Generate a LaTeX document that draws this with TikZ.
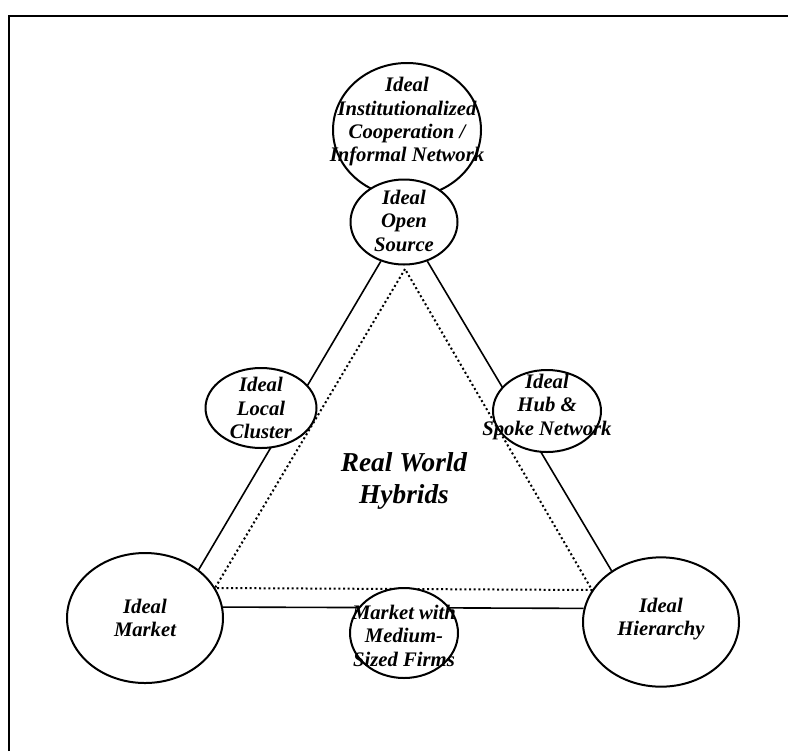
\documentclass[tikz,border=0pt]{standalone}
\usepackage{fontspec}
\setmainfont{Liberation Serif}
\usetikzlibrary{shapes.geometric,backgrounds}

\tikzset{
  blob/.style={draw,ellipse,fill=white,line width=1.5pt,inner sep=0pt},
  txt/.style={align=center,font=\bfseries\itshape\fontsize{15.5}{17.5}\selectfont},
  side/.style={line width=1.2pt},
  dots/.style={dotted,line width=1.5pt}
}

\begin{document}
\begin{tikzpicture}[x=0.75pt,y=-0.75pt]
    \useasboundingbox (0,0) rectangle (788,751);
    \draw[line width=1.4pt] (9,751) -- (9,16) -- (788,16);

    \node[blob,minimum width=111pt,minimum height=100.5pt,
      label={[txt,yshift=6pt]center:Ideal\\Institutionalized\\Cooperation /\\Informal Network}](inst) at (407,130) {};
    \node[blob,minimum width=80.25pt,minimum height=63.75pt,
      label={[txt,yshift=1pt]center:Ideal\\Open\\Source}](os) at (404,222) {};
    \node[blob,minimum width=83.25pt,minimum height=60pt,
      label={[txt]center:Ideal\\Local\\Cluster}](lc) at (261,408) {};
    \node[blob,minimum width=81pt,minimum height=61.5pt,
      label={[txt,yshift=3pt]center:Ideal\\Hub \&\\Spoke Network}](hub) at (547,411) {};
    \node[blob,minimum width=117pt,minimum height=97.5pt,
      label={[txt]center:Ideal\\Market}](mkt) at (145,618) {};
    \node[blob,minimum width=117pt,minimum height=97pt,
      label={[txt,yshift=2pt]center:Ideal\\Hierarchy}](hier) at (661,622) {};
    \node[blob,minimum width=81pt,minimum height=67.5pt,
      label={[txt,yshift=-2pt]center:Market with\\Medium-\\Sized Firms}](med) at (404,633) {};

    \node[align=center,font=\bfseries\itshape\fontsize{20.5}{24}\selectfont](hyb) at (404,481) {Real World\\Hybrids};

    \coordinate (top) at (405,269);
    \coordinate (bl) at (215,588);
    \coordinate (br) at (592,590);

    \begin{pgfonlayer}{background}
    \draw[side] (os) -- (mkt.42);
    \draw[side] (os) -- (hier.134);
    \draw[side] (mkt.8) -- (hier.170);
    \draw[dots] (top) -- (bl) -- (br) -- cycle;
    \end{pgfonlayer}
\end{tikzpicture}
\end{document}
